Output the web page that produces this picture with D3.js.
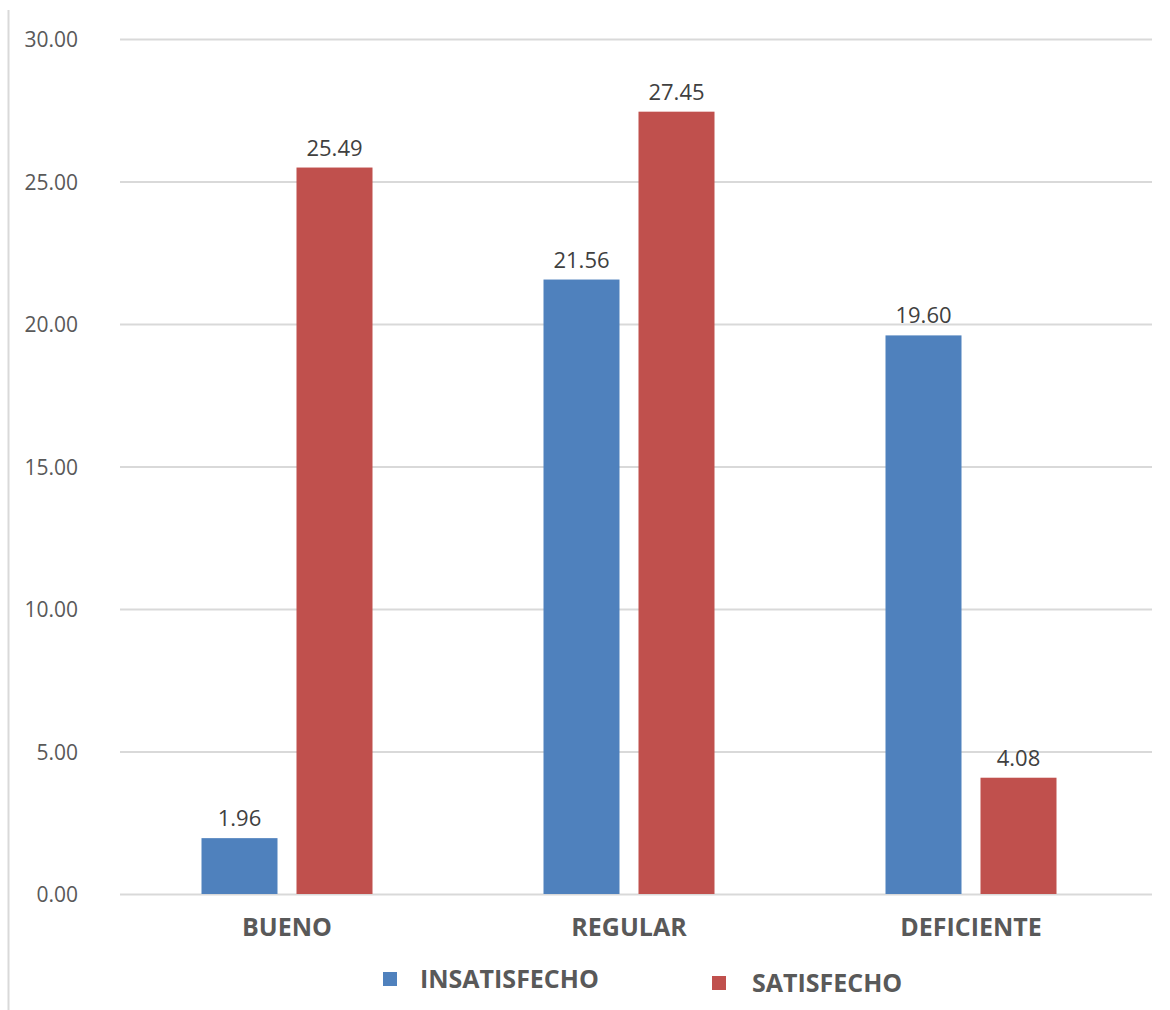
<!DOCTYPE html>
<html>
<head>
<meta charset="utf-8">
<script src="https://cdn.jsdelivr.net/npm/d3@7"></script>
<style>
  html, body { margin: 0; padding: 0; background: #fff; }
  svg { display: block; }
</style>
</head>
<body>
<svg id="chart" width="1170" height="1010"></svg>
<script>
const categories = ["BUENO", "REGULAR", "DEFICIENTE"];
const seriesNames = ["INSATISFECHO", "SATISFECHO"];
const insatisfecho = [1.96, 21.56, 19.60];
const satisfecho = [25.49, 27.45, 4.08];
const yTicks = [0, 5, 10, 15, 20, 25, 30];
const colors = ["#4f81bd", "#c0504d"];

const seriesValues = [insatisfecho, satisfecho];
const rows = categories.map((c, i) => ({
  cat: c,
  vals: seriesNames.map((s, j) => ({ key: s, value: seriesValues[j][i], color: colors[j] }))
}));

const svg = d3.select("#chart");
const font = "'Open Sans', 'Noto Sans', sans-serif";

// outer frame line on the left
svg.append("line")
  .attr("x1", 8.5).attr("x2", 8.5).attr("y1", 10).attr("y2", 1010)
  .attr("stroke", "#d9d9d9").attr("stroke-width", 2);

const plotLeft = 120, plotRight = 1152;
const y = d3.scaleLinear().domain([0, 30]).range([894, 39]);
const x0 = d3.scaleBand().domain(categories).range([116, 1142]);
const x1 = d3.scaleBand().domain(seriesNames).range([0, x0.bandwidth()])
  .paddingInner(0.2).paddingOuter(0.9);

// gridlines
const yAxis = d3.axisLeft(y).tickValues(yTicks)
  .tickSize(-(plotRight - plotLeft)).tickFormat(d => d.toFixed(2)).tickPadding(0);
const gy = svg.append("g").attr("transform", `translate(${plotLeft},0)`).call(yAxis);
gy.select(".domain").remove();
gy.selectAll(".tick line").attr("stroke", "#d9d9d9").attr("stroke-width", 2);
gy.selectAll(".tick text")
  .attr("x", -42).attr("dy", "0.36em")
  .attr("text-anchor", "end")
  .style("font-family", font).style("font-size", "21px").attr("fill", "#595959");

// bars
const groups = svg.selectAll("g.cat").data(rows).join("g")
  .attr("class", "cat")
  .attr("transform", d => `translate(${x0(d.cat)},0)`);

groups.selectAll("rect").data(d => d.vals).join("rect")
  .attr("x", d => x1(d.key))
  .attr("width", x1.bandwidth())
  .attr("y", d => y(d.value))
  .attr("height", d => y(0) - y(d.value))
  .attr("fill", d => d.color);

groups.selectAll("text.val").data(d => d.vals).join("text")
  .attr("class", "val")
  .attr("x", d => x1(d.key) + x1.bandwidth() / 2)
  .attr("y", d => y(d.value) - 12)
  .attr("text-anchor", "middle")
  .style("font-family", font).style("font-size", "22px").attr("fill", "#404040")
  .text(d => d.value.toFixed(2));

// category axis
const xAxis = d3.axisBottom(x0).tickSize(0).tickPadding(0);
const gx = svg.append("g").attr("transform", `translate(0,${y(0)})`).call(xAxis);
gx.select(".domain").remove();
gx.selectAll(".tick text")
  .attr("y", 42)
  .attr("dy", 0)
  .style("font-family", font).style("font-size", "25px").style("font-weight", "bold")
  .attr("fill", "#595959");

// legend
const legendX = [383, 712];
const legend = svg.selectAll("g.legend").data(seriesNames).join("g")
  .attr("class", "legend")
  .attr("transform", (d, i) => `translate(${legendX[i]},${972 + i * 4})`);
legend.append("rect").attr("width", 14).attr("height", 14)
  .attr("fill", (d, i) => colors[i]);
legend.append("text")
  .attr("x", (d, i) => i === 0 ? 37 : 40).attr("y", 16)
  .style("font-family", font).style("font-size", "25px").style("font-weight", "bold")
  .attr("fill", "#595959")
  .text(d => d);
</script>
</body>
</html>
